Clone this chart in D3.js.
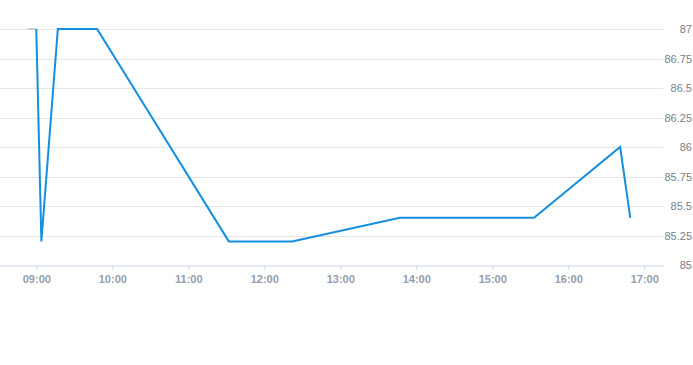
<!DOCTYPE html>
<html>
<head>
<meta charset="utf-8">
<script src="https://cdn.jsdelivr.net/npm/d3@7"></script>
<style>
  body { margin: 0; background: #fff; }
  svg { display: block; font-family: "Liberation Sans", Arial, sans-serif; }
  .grid line { stroke: #e6e6e6; stroke-width: 1; }
  .xaxis path, .xaxis line { stroke: #ccd6eb; }
  .xaxis text { fill: #949dab; font-size: 11px; font-weight: bold; }
  .ylabel { fill: #76808d; font-size: 11px; }
</style>
</head>
<body>
<svg width="693" height="365"></svg>
<script>
// price series (time, value)
var times = ["09:00", "09:04", "09:17", "09:48", "11:32", "12:22", "13:47", "15:33", "16:41", "16:49"];
var values = [87, 85.2, 87, 87, 85.2, 85.2, 85.4, 85.4, 86, 85.4];

// grey pre-open segment
var preTimes = ["08:53", "09:00"];
var preValues = [87, 87];

var yTicks = [85, 85.25, 85.5, 85.75, 86, 86.25, 86.5, 86.75, 87];
var xTicks = ["09:00", "10:00", "11:00", "12:00", "13:00", "14:00", "15:00", "16:00", "17:00"];

var parse = d3.timeParse("%H:%M");
var parseS = d3.timeParse("%H:%M:%S");

var svg = d3.select("svg");
var plotW = 663;

var x = d3.scaleTime()
.domain([parseS("08:31:20"), parseS("17:14:50")])
.range([0, plotW]);

var y = d3.scaleLinear()
.domain([85, 87])
.range([265, 29]);

// grid lines
svg.append("g")
.attr("class", "grid")
.selectAll("line")
.data(yTicks.filter(function(d) { return d !== 85; }))
.enter().append("line")
.attr("x1", 0)
.attr("x2", plotW)
.attr("y1", function(d) { return Math.round(y(d)) + 0.5; })
.attr("y2", function(d) { return Math.round(y(d)) + 0.5; });

// y labels on the right
svg.append("g")
.selectAll("text")
.data(yTicks)
.enter().append("text")
.attr("class", "ylabel")
.attr("x", 692)
.attr("y", function(d) { return y(d) + 4; })
.attr("text-anchor", "end")
.text(function(d) { return d3.format("")(d); });

// x axis
var xAxis = d3.axisBottom(x)
.tickValues(xTicks.map(parse))
.tickFormat(d3.timeFormat("%H:%M"))
.tickSize(5)
.tickSizeOuter(0)
.tickPadding(5);

svg.append("g")
.attr("class", "xaxis")
.attr("transform", "translate(0," + (Math.round(y(85)) + 0.5) + ")")
.call(xAxis);

var line = d3.line()
.x(function(d) { return x(d[0]); })
.y(function(d) { return y(d[1]); });

var preData = preTimes.map(function(t, i) { return [parse(t), preValues[i]]; });
var data = times.map(function(t, i) { return [parse(t), values[i]]; });

svg.append("path")
.datum(preData)
.attr("fill", "none")
.attr("stroke", "#cdd2da")
.attr("stroke-width", 2)
.attr("d", line);

svg.append("path")
.datum(data)
.attr("fill", "none")
.attr("stroke", "#168fdf")
.attr("stroke-width", 2)
.attr("stroke-linejoin", "miter")
.attr("d", line);
</script>
</body>
</html>
